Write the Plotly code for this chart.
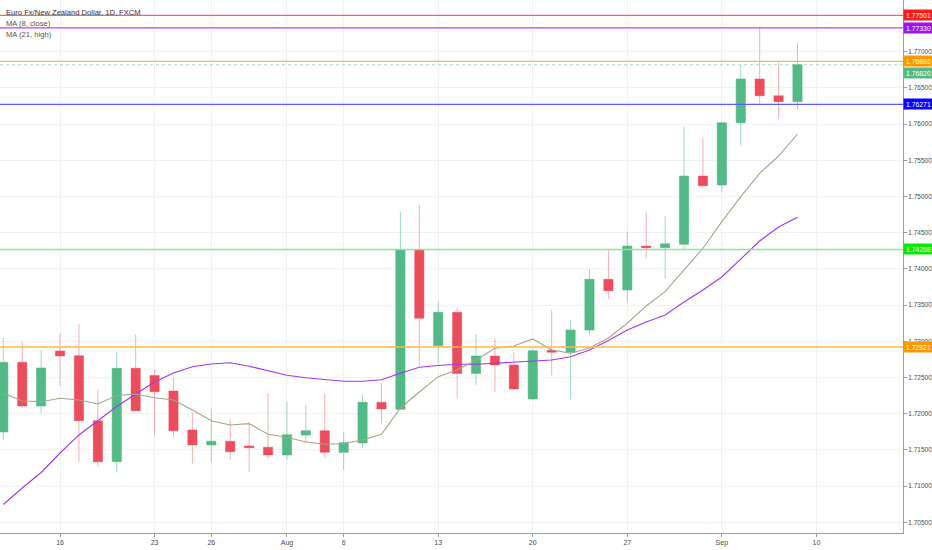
import plotly.graph_objects as go

dates = ["2018-07-11", "2018-07-12", "2018-07-13",
         "2018-07-16", "2018-07-17", "2018-07-18", "2018-07-19", "2018-07-20",
         "2018-07-23", "2018-07-24", "2018-07-25", "2018-07-26", "2018-07-27",
         "2018-07-30", "2018-07-31", "2018-08-01", "2018-08-02", "2018-08-03",
         "2018-08-06", "2018-08-07", "2018-08-08", "2018-08-09", "2018-08-10",
         "2018-08-13", "2018-08-14", "2018-08-15", "2018-08-16", "2018-08-17",
         "2018-08-20", "2018-08-21", "2018-08-22", "2018-08-23", "2018-08-24",
         "2018-08-27", "2018-08-28", "2018-08-29", "2018-08-30", "2018-08-31",
         "2018-09-03", "2018-09-04", "2018-09-05", "2018-09-06", "2018-09-07"]

open_ = [1.71747, 1.72710, 1.72106, 1.72866, 1.72801, 1.71903, 1.71337, 1.72627, 1.72528, 1.72314,
         1.71775, 1.71568, 1.71619, 1.71554, 1.71536, 1.71430, 1.71706, 1.71765, 1.71467, 1.71595,
         1.72158, 1.72061, 1.74268, 1.72939, 1.73401, 1.72555, 1.72797, 1.72673, 1.72203, 1.72876,
         1.72848, 1.73156, 1.73856, 1.73709, 1.74316, 1.74293, 1.74340, 1.75283, 1.75159, 1.76019,
         1.76623, 1.76392, 1.76309]
high = [1.73046, 1.72995, 1.72880, 1.73111, 1.73239, 1.72327, 1.72856, 1.73097, 1.72604, 1.72503,
        1.72017, 1.72065, 1.71927, 1.71885, 1.72282, 1.72166, 1.72120, 1.72282, 1.71751, 1.72258,
        1.72420, 1.74790, 1.74883, 1.73547, 1.73467, 1.73097, 1.73042, 1.72848, 1.72894, 1.73432,
        1.73294, 1.73995, 1.74261, 1.74514, 1.74790, 1.74731, 1.75964, 1.75812, 1.76029, 1.76816,
        1.77330, 1.76848, 1.77124]
low = [1.71637, 1.72079, 1.72006, 1.72383, 1.71333, 1.71268, 1.71199, 1.72024, 1.71699, 1.71678,
       1.71312, 1.71337, 1.71361, 1.71199, 1.71370, 1.71361, 1.71591, 1.71384, 1.71222, 1.71522,
       1.71867, 1.72051, 1.72659, 1.72696, 1.72213, 1.72396, 1.72304, 1.72327, 1.72189, 1.72528,
       1.72199, 1.73087, 1.73584, 1.73547, 1.74146, 1.73856, 1.74261, 1.75113, 1.75066, 1.75698,
       1.76287, 1.76066, 1.76204]
close = [1.72710, 1.72106, 1.72631, 1.72797, 1.71903, 1.71337, 1.72627, 1.72041, 1.72304, 1.71765,
         1.71568, 1.71619, 1.71475, 1.71530, 1.71430, 1.71710, 1.71765, 1.71467, 1.71600, 1.72158,
         1.72065, 1.74268, 1.73318, 1.73401, 1.72555, 1.72797, 1.72673, 1.72341, 1.72870, 1.72848,
         1.73156, 1.73856, 1.73699, 1.74316, 1.74293, 1.74348, 1.75283, 1.75149, 1.76019, 1.76623,
         1.76392, 1.76309, 1.76820]

ma8_close = [1.72286, 1.72175, 1.72166, 1.72213, 1.72189, 1.72134, 1.72251, 1.72272, 1.72221, 1.72189,
             1.72051, 1.71903, 1.71844, 1.71862, 1.71716, 1.71674, 1.71609, 1.71577, 1.71588, 1.71637,
             1.71716, 1.72079, 1.72300, 1.72511, 1.72604, 1.72742, 1.72903, 1.72935, 1.73032, 1.72880,
             1.72834, 1.72908, 1.73046, 1.73249, 1.73488, 1.73685, 1.73985, 1.74285, 1.74652, 1.74997,
             1.75320, 1.75559, 1.75863]
ma21_high = [1.70746, 1.70974, 1.71188, 1.71457, 1.71706, 1.71899, 1.72100, 1.72272, 1.72438, 1.72562,
             1.72649, 1.72686, 1.72704, 1.72655, 1.72590, 1.72530, 1.72496, 1.72471, 1.72448, 1.72449,
             1.72468, 1.72559, 1.72642, 1.72666, 1.72682, 1.72682, 1.72696, 1.72704, 1.72718, 1.72742,
             1.72787, 1.72880, 1.73011, 1.73156, 1.73267, 1.73363, 1.73543, 1.73709, 1.73888, 1.74137,
             1.74385, 1.74579, 1.74713]

level_values = [1.77501, 1.77330, 1.76866, 1.76271, 1.74268, 1.72921]
level_line_colors = ["#f5626d", "#b447f2", "#ffb74d", "#5c5cff", "#90e690", "#ffb74d"]
level_label_colors = ["#ff1a1a", "#9a14ee", "#ff9800", "#0a00ff", "#0ae60a", "#ff9800"]

last_price = 1.76820

tick_dates = ["2018-07-16", "2018-07-23", "2018-07-26", "2018-08-01", "2018-08-06",
              "2018-08-13", "2018-08-20", "2018-08-27", "2018-09-03", "2018-09-10"]
tick_text = ["16", "23", "26", "Aug", "6", "13", "20", "27", "Sep", "10"]

title_lines = ["Euro Fx/New Zealand Dollar, 1D, FXCM", "MA (8, close)", "MA (21, high)"]

FONT = "Liberation Sans"
UP = "#53b987"
DOWN = "#eb4d5c"

fig = go.Figure()

fig.add_trace(go.Scatter(x=dates, y=ma21_high, mode="lines",
                         line=dict(color="#a236f0", width=1.1), hoverinfo="skip"))
fig.add_trace(go.Scatter(x=dates, y=ma8_close, mode="lines",
                         line=dict(color="#a3a886", width=1.1), hoverinfo="skip"))

fig.add_trace(go.Candlestick(
    x=dates, open=open_, high=high, low=low, close=close,
    increasing=dict(line=dict(color="rgba(83,185,135,0.55)", width=1), fillcolor=UP),
    decreasing=dict(line=dict(color="rgba(235,77,92,0.45)", width=1), fillcolor=DOWN),
    whiskerwidth=0,
))

shapes = []
annotations = []
label_font = dict(family=FONT, size=6.8, color="white")
for v, lc, bc in zip(level_values, level_line_colors, level_label_colors):
    shapes.append(dict(type="line", xref="paper", x0=0, x1=1, yref="y", y0=v, y1=v,
                       line=dict(color=lc, width=1.3), layer="above"))
    annotations.append(dict(xref="paper", x=1, xanchor="left", yref="y", y=v, yanchor="middle",
                            text="%.5f" % v, showarrow=False, bgcolor=bc, width=27, height=8,
                            borderpad=1, font=label_font))

shapes.append(dict(type="line", xref="paper", x0=0, x1=1, yref="y", y0=last_price, y1=last_price,
                   line=dict(color="rgba(83,185,135,0.5)", width=1, dash="dot"), layer="above"))
annotations.append(dict(xref="paper", x=1, xanchor="left", yref="y", y=last_price, yanchor="middle",
                        yshift=-8, text="%.5f" % last_price, showarrow=False, bgcolor=UP,
                        width=27, height=8, borderpad=1, font=label_font))

for k, t in enumerate(title_lines):
    annotations.append(dict(xref="paper", yref="paper", x=0, xanchor="left", xshift=4,
                            y=1, yanchor="middle", yshift=-12 - 11 * k, text=t, showarrow=False,
                            font=dict(family=FONT, size=7.6, color="#333333" if k == 0 else "#555555")))

fig.update_layout(
    width=932, height=550,
    margin=dict(l=0, r=29, t=0, b=17),
    paper_bgcolor="white", plot_bgcolor="white",
    showlegend=False,
    font=dict(family=FONT, size=7, color="#4a4a4a"),
    shapes=shapes, annotations=annotations,
    xaxis=dict(
        type="date",
        range=["2018-07-10 19:48", "2018-09-14 13:55"],
        rangebreaks=[dict(bounds=["sat", "mon"])],
        rangeslider=dict(visible=False),
        tickmode="array", tickvals=tick_dates, ticktext=tick_text,
        showgrid=True, gridcolor="#eff1f5", gridwidth=1,
        showline=True, linecolor="#9a9ea8", linewidth=1,
        ticks="outside", ticklen=3, tickcolor="#9a9ea8",
        tickfont=dict(family=FONT, size=7, color="#4a4a4a"),
        zeroline=False, fixedrange=True,
    ),
    yaxis=dict(
        side="right",
        range=[1.70352, 1.77714],
        dtick=0.005, tick0=1.70, tickformat=".5f",
        showgrid=True, gridcolor="#eff1f5", gridwidth=1,
        showline=True, linecolor="#9a9ea8", linewidth=1,
        ticks="outside", ticklen=3, tickcolor="#9a9ea8",
        tickfont=dict(family=FONT, size=6.5, color="#4a4a4a"),
        zeroline=False, fixedrange=True,
    ),
)

fig.write_html("out.html", config={"displayModeBar": False},
               post_script="document.body.style.margin='0px';document.body.style.overflow='hidden';")
